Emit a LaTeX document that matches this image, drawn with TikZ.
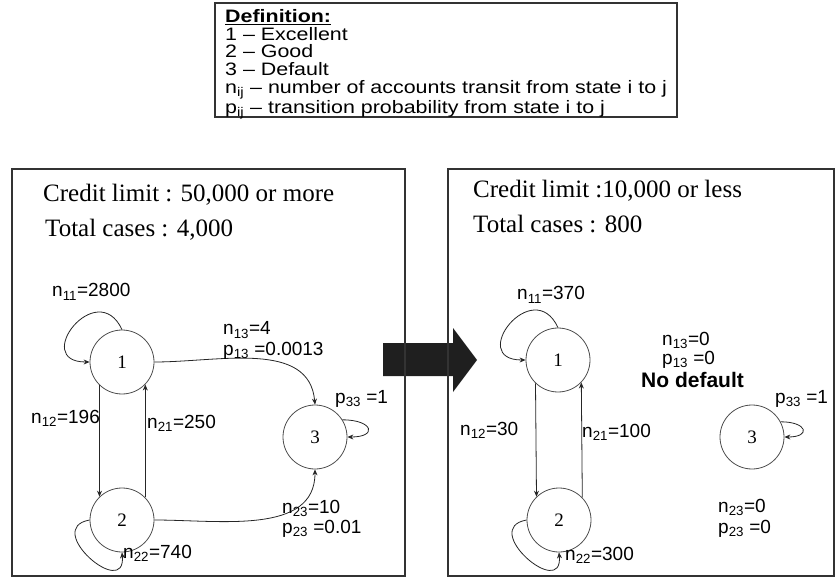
\documentclass[tikz,border=0pt]{standalone}
\usepackage{fontspec}
\setmainfont{Liberation Serif}
\newfontfamily\arialfont{Liberation Sans}
\newfontfamily\deffont{Liberation Sans}[FakeStretch=1.19]
\usetikzlibrary{arrows.meta}

\begin{document}
\begin{tikzpicture}[x=1pt, y=1pt,
    every node/.style={inner sep=0pt},
    stnode/.style={circle, draw=black!70, line width=0.8pt, minimum size=64pt, font=\fontsize{19}{19}\selectfont},
    lbl/.style={anchor=base west, font=\arialfont\fontsize{19}{19}\selectfont},
    hdr/.style={anchor=base west, font=\fontsize{25}{25}\selectfont},
    panel/.style={draw=black!80, line width=1.1pt},
    edge/.style={draw=black!85, line width=0.8pt},
    >={Stealth[length=6pt, width=5pt]}]
    \useasboundingbox (0,0) rectangle (835,579);

    % big arrow between the two panels
    \fill[black!88] (383,203) -- (453,203) -- (453,187) -- (477,219) -- (453,251) -- (453,236) -- (383,236) -- cycle;

    % definition box
    \draw[panel] (215,462) rectangle (677,576);
    \node[anchor=north west, align=left, font=\deffont\fontsize{18}{17.8}\selectfont] (defn) at (225,570)
        {\underline{\textbf{Definition:}}\\
         1 – Excellent\\
         2 – Good\\
         3 – Default\\
         n\textsubscript{ij} – number of accounts transit from state i to j\\
         p\textsubscript{ij} – transition probability from state i to j};

    % left panel: 50,000 or more
    \draw[panel] (12,3) rectangle (405,410);
    \node[hdr] (lcl) at (43,377) {Credit limit : 50,000 or more};
    \node[hdr] (ltc) at (45,342) {Total cases : 4,000};

    \node[stnode] (l1) at (122,217) {1};
    \node[stnode] (l2) at (122,59) {2};
    \node[stnode] (l3) at (315,142) {3};

    \draw[edge, ->] (l1.226) -- (l2.134);
    \draw[edge, ->] (l2.44) -- (l1.-44);
    \draw[edge, ->] (l1.east) to[out=0, in=95] (l3.north);
    \draw[edge, ->] (l2.east) to[out=0, in=-90] (l3.south);
    \draw[edge, ->] (l1.north) to[out=115, in=180, looseness=3.3] (l1.west);
    \draw[edge, ->] (l2.west) to[out=190, in=-85, looseness=2.7] (l2.south);
    \draw[edge, ->] (l3.32) to[out=0, in=0, looseness=4.4] (l3.east);

    \node[lbl] (ln11) at (52,282) {n\textsubscript{11}=2800};
    \node[lbl] (ln13) at (223,244) {n\textsubscript{13}=4};
    \node[lbl] (lp13) at (223,224) {p\textsubscript{13} =0.0013};
    \node[lbl] (ln12) at (31,156) {n\textsubscript{12}=196};
    \node[lbl] (ln21) at (147,151) {n\textsubscript{21}=250};
    \node[lbl] (lp33) at (335,176) {p\textsubscript{33} =1};
    \node[lbl] (ln23) at (282,66) {n\textsubscript{23}=10};
    \node[lbl] (lp23) at (282,46) {p\textsubscript{23} =0.01};
    \node[lbl] (ln22) at (123,21) {n\textsubscript{22}=740};

    % right panel: 10,000 or less
    \draw[panel] (448,3) rectangle (834,410);
    \node[hdr] (rcl) at (473,381) {Credit limit :10,000 or less};
    \node[hdr] (rtc) at (473,346) {Total cases : 800};

    \node[stnode] (r1) at (558,219) {1};
    \node[stnode] (r2) at (559,59) {2};
    \node[stnode] (r3) at (752,142) {3};

    \draw[edge, ->] (r1.226) -- (r2.134);
    \draw[edge, ->] (r2.44) -- (r1.-44);
    \draw[edge, ->] (r1.north) to[out=115, in=180, looseness=3.3] (r1.west);
    \draw[edge, ->] (r2.west) to[out=190, in=-85, looseness=2.7] (r2.south);
    \draw[edge, ->] (r3.28) to[out=0, in=0, looseness=4.4] (r3.east);

    \node[lbl] (rn11) at (517,279) {n\textsubscript{11}=370};
    \node[lbl] (rn13) at (662,234) {n\textsubscript{13}=0};
    \node[lbl] (rp13) at (662,215) {p\textsubscript{13} =0};
    \node[lbl, font=\arialfont\bfseries\fontsize{21}{21}\selectfont] (rnd) at (641,192) {No default};
    \node[lbl] (rp33) at (775,176) {p\textsubscript{33} =1};
    \node[lbl] (rn12) at (460,144) {n\textsubscript{12}=30};
    \node[lbl] (rn21) at (582,142) {n\textsubscript{21}=100};
    \node[lbl] (rn23) at (718,67) {n\textsubscript{23}=0};
    \node[lbl] (rp23) at (718,46) {p\textsubscript{23} =0};
    \node[lbl] (rn22) at (565,19) {n\textsubscript{22}=300};
\end{tikzpicture}
\end{document}
